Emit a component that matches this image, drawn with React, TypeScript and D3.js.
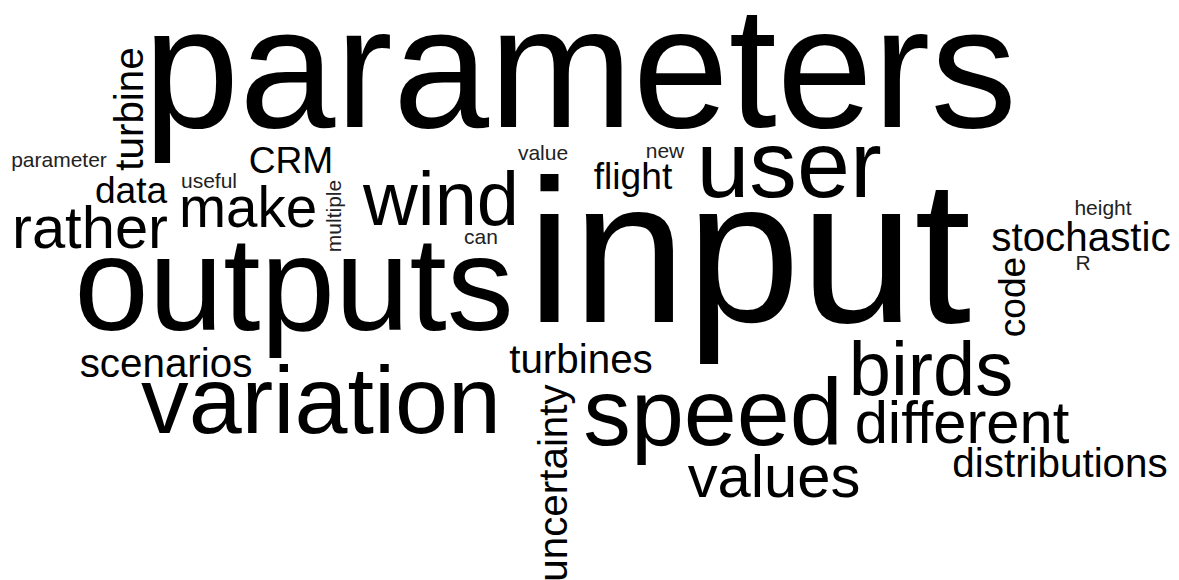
// word cloud of the terms used in the CRM write-up

import React, { useEffect, useRef } from "react";
import * as d3 from "d3";

// words and how often they occur
const words = [
  "input", "parameters", "outputs", "user", "variation", "speed",
  "wind", "birds", "different", "values", "rather", "make",
  "stochastic", "distributions", "turbines", "scenarios", "uncertainty", "turbine",
  "flight", "CRM", "data", "code",
  "parameter", "useful", "value", "new", "can", "height", "R", "multiple",
];
const counts = [
  60, 50, 38, 26, 26, 26,
  20, 20, 15, 15, 15, 14,
  9, 9, 9, 9, 9, 9,
  8, 8, 8, 8,
  3, 3, 3, 3, 3, 3, 3, 3,
];

// layout produced by the cloud placement (centre x, baseline y, rotation)
const layoutX = [
  749, 580, 294, 789, 321, 713,
  441, 931, 962, 774, 90, 248,
  1081, 1060, 581, 166, 567, 143,
  633, 291, 131, 1025,
  59, 209, 543, 665, 481, 1103, 1083, 341,
];
const layoutY = [
  322, 127, 330, 197, 433, 445,
  225, 395, 443, 497, 248, 227,
  251, 477, 373, 377, 483, 109,
  189, 173, 203, 297,
  167, 188, 160, 158, 244, 215, 270, 216,
];
const rotated = [
  0, 0, 0, 0, 0, 0,
  0, 0, 0, 0, 0, 0,
  0, 0, 0, 0, 1, 1,
  0, 0, 0, 1,
  0, 0, 0, 0, 0, 0, 0, 1,
];

const App: React.FC = () => {
  const svgRef = useRef<SVGSVGElement | null>(null);

  useEffect(() => {
    const width = 1179;
    const height = 580;

    const size = d3
      .scaleLinear()
      .domain([3, 60])
      .range([21, 205]);

    const svg = d3
      .select(svgRef.current)
      .attr("width", width)
      .attr("height", height)
      .attr("viewBox", [0, 0, width, height])
      .style("background", "#fff");

    svg.selectAll("*").remove();

    const data = words.map((w, i) => ({
      text: w,
      count: counts[i],
      x: layoutX[i],
      y: layoutY[i],
      rot: rotated[i],
    }));

    svg
      .selectAll("text")
      .data(data)
      .enter()
      .append("text")
      .attr("text-anchor", "middle")
      .attr("transform", (d) =>
        d.rot ? `translate(${d.x},${d.y}) rotate(-90)` : `translate(${d.x},${d.y})`,
      )
      .style("font-family", "'Liberation Sans', Arial, sans-serif")
      .style("font-size", (d) => `${size(d.count)}px`)
      .attr("fill", (d) => (d.count <= 3 ? "#222" : "#000"))
      .text((d) => d.text);
  }, []);

  return (
    <div style={{ position: "absolute", left: 0, top: 0, width: "1179px", height: "580px" }}>
      <svg ref={svgRef}></svg>
    </div>
  );
};

export default App;
